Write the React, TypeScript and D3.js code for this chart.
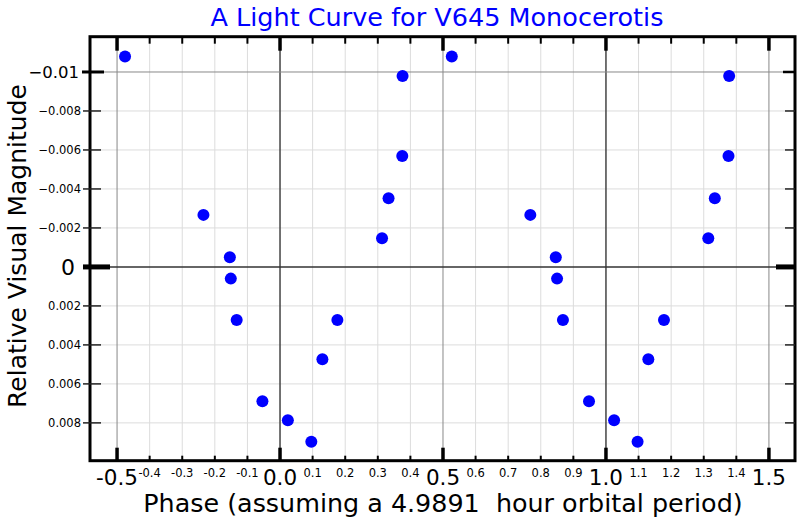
import React from 'react';
import * as d3 from 'd3';

// Data (phase, relative visual magnitude); the curve is drawn twice, one cycle apart
const phaseFirst = [-0.4755, -0.235, -0.154, -0.151, -0.133, -0.054, 0.024, 0.096, 0.13, 0.176, 0.313, 0.333, 0.375, 0.376];
const magFirst = [-0.0108, -0.00267, -0.0005, 0.0006, 0.00272, 0.00689, 0.00786, 0.00897, 0.00473, 0.00272, -0.00147, -0.00352, -0.00569, -0.00979];
const phaseSecond = [0.527, 0.768, 0.846, 0.85, 0.868, 0.948, 1.025, 1.097, 1.13, 1.178, 1.314, 1.334, 1.376, 1.378];
const magSecond = [-0.0108, -0.00267, -0.0005, 0.0006, 0.00272, 0.00689, 0.00786, 0.00897, 0.00473, 0.00272, -0.00147, -0.00352, -0.00569, -0.00979];

const xMajorTicks = [-0.5, 0.0, 0.5, 1.0, 1.5];
const xMajorLabels = ['-0.5', '0.0', '0.5', '1.0', '1.5'];
const xMinorTicks = [-0.4, -0.3, -0.2, -0.1, 0.1, 0.2, 0.3, 0.4, 0.6, 0.7, 0.8, 0.9, 1.1, 1.2, 1.3, 1.4];
const xMinorLabels = ['-0.4', '-0.3', '-0.2', '-0.1', '0.1', '0.2', '0.3', '0.4', '0.6', '0.7', '0.8', '0.9', '1.1', '1.2', '1.3', '1.4'];
const yMinorTicks = [-0.008, -0.006, -0.004, -0.002, 0.002, 0.004, 0.006, 0.008];
const yMinorLabels = ['\u22120.008', '\u22120.006', '\u22120.004', '\u22120.002', '0.002', '0.004', '0.006', '0.008'];
const yMajorTicks = [-0.01, 0];
const yMajorLabels = ['\u22120.01', '0'];

const TITLE = 'A Light Curve for V645 Monocerotis';
const X_TITLE = 'Phase (assuming a 4.9891  hour orbital period)';
const Y_TITLE = 'Relative Visual Magnitude';

const FONT = 'DejaVu Sans, Bitstream Vera Sans, sans-serif';

export default function App() {
  const left = 90, right = 795, top = 36.7, bottom = 460.7;
  const x = d3.scaleLinear().domain([-0.583, 1.58]).range([left, right]);
  const y = d3.scaleLinear().domain([-0.01181, 0.00994]).range([top, bottom]);

  const points = [
    ...phaseFirst.map((p, i) => ({ p, m: magFirst[i] })),
    ...phaseSecond.map((p, i) => ({ p, m: magSecond[i] })),
  ];

  return (
    <svg width={800} height={520} style={{ position: 'absolute', left: 0, top: 0, background: '#fff' }} fontFamily={FONT}>
      <rect x={0} y={0} width={800} height={520} fill="#fff" />
      {/* minor grid */}
      {xMinorTicks.map((t) => (
        <line key={'gx' + t} x1={x(t)} x2={x(t)} y1={top} y2={bottom} stroke="#dcdcdc" strokeWidth={1} />
      ))}
      {yMinorTicks.map((t) => (
        <line key={'gy' + t} x1={left} x2={right} y1={y(t)} y2={y(t)} stroke="#dcdcdc" strokeWidth={1} />
      ))}
      {/* major grid */}
      {xMajorTicks.map((t) => (
        <line key={'mx' + t} x1={x(t)} x2={x(t)} y1={top} y2={bottom}
          stroke={t === 0 || t === 1 ? '#444' : '#888'} strokeWidth={t === 0 || t === 1 ? 1.5 : 1} />
      ))}
      {yMajorTicks.map((t) => (
        <line key={'my' + t} x1={left} x2={right} y1={y(t)} y2={y(t)}
          stroke={t === 0 ? '#333' : '#888'} strokeWidth={t === 0 ? 1.5 : 1} />
      ))}
      {/* points */}
      {points.map((d, i) => (
        <circle key={'pt' + i} cx={x(d.p)} cy={y(d.m)} r={6} fill="#0000ff" />
      ))}
      {/* frame */}
      <rect x={left} y={top} width={right - left} height={bottom - top} fill="none" stroke="#000" strokeWidth={3} />
      {/* top & bottom ticks */}
      {xMinorTicks.map((t) => (
        <g key={'tx' + t}>
          <line x1={x(t)} x2={x(t)} y1={top} y2={top + 7} stroke="#000" strokeWidth={2} />
          <line x1={x(t)} x2={x(t)} y1={bottom} y2={bottom - 5} stroke="#000" strokeWidth={2} />
        </g>
      ))}
      {xMajorTicks.map((t) => (
        <g key={'tmx' + t}>
          <line x1={x(t)} x2={x(t)} y1={top} y2={top + 14} stroke="#000" strokeWidth={3.5} />
          <line x1={x(t)} x2={x(t)} y1={bottom} y2={bottom - 13} stroke="#000" strokeWidth={3.5} />
        </g>
      ))}
      {/* left & right ticks */}
      {yMinorTicks.map((t) => (
        <g key={'ty' + t}>
          <line x1={83} x2={101} y1={y(t)} y2={y(t)} stroke="#222" strokeWidth={1.5} />
          <line x1={right - 10} x2={right} y1={y(t)} y2={y(t)} stroke="#222" strokeWidth={1.5} />
        </g>
      ))}
      {yMajorTicks.map((t) => (
        <g key={'tmy' + t}>
          <line x1={t === 0 ? 83 : 82} x2={t === 0 ? 110 : 104} y1={y(t)} y2={y(t)} stroke="#000" strokeWidth={t === 0 ? 5 : 3} />
          <line x1={t === 0 ? right - 19 : right - 12} x2={right} y1={y(t)} y2={y(t)} stroke="#000" strokeWidth={t === 0 ? 5 : 2.5} />
        </g>
      ))}
      {/* x labels */}
      {xMajorTicks.map((t, i) => (
        <text key={'lx' + t} x={x(t)} y={485} textAnchor="middle" fontSize={21.5} fill="#000">{xMajorLabels[i]}</text>
      ))}
      {xMinorTicks.map((t, i) => (
        <text key={'lmx' + t} x={x(t)} y={477} textAnchor="middle" fontSize={11.5} fill="#000">{xMinorLabels[i]}</text>
      ))}
      {/* y labels */}
      {yMinorTicks.map((t, i) => (
        <text key={'ly' + t} x={81} y={y(t)} dy="0.36em" textAnchor="end" fontSize={11.5} fill="#000">{yMinorLabels[i]}</text>
      ))}
      {yMajorTicks.map((t, i) => (
        <text key={'lmy' + t} x={t === 0 ? 75 : 79} y={y(t)} dy="0.36em" textAnchor="end" fontSize={t === 0 ? 22 : 16.5} fill="#000">{yMajorLabels[i]}</text>
      ))}
      {/* titles */}
      <text x={437} y={26} textAnchor="middle" fontSize={25.5} fill="#0000ff">{TITLE}</text>
      <text x={443} y={512} textAnchor="middle" fontSize={25.4} fill="#000" style={{ whiteSpace: 'pre' }}>{X_TITLE}</text>
      <text transform="translate(26,246) rotate(-90)" textAnchor="middle" fontSize={25} fill="#000">{Y_TITLE}</text>
    </svg>
  );
}
